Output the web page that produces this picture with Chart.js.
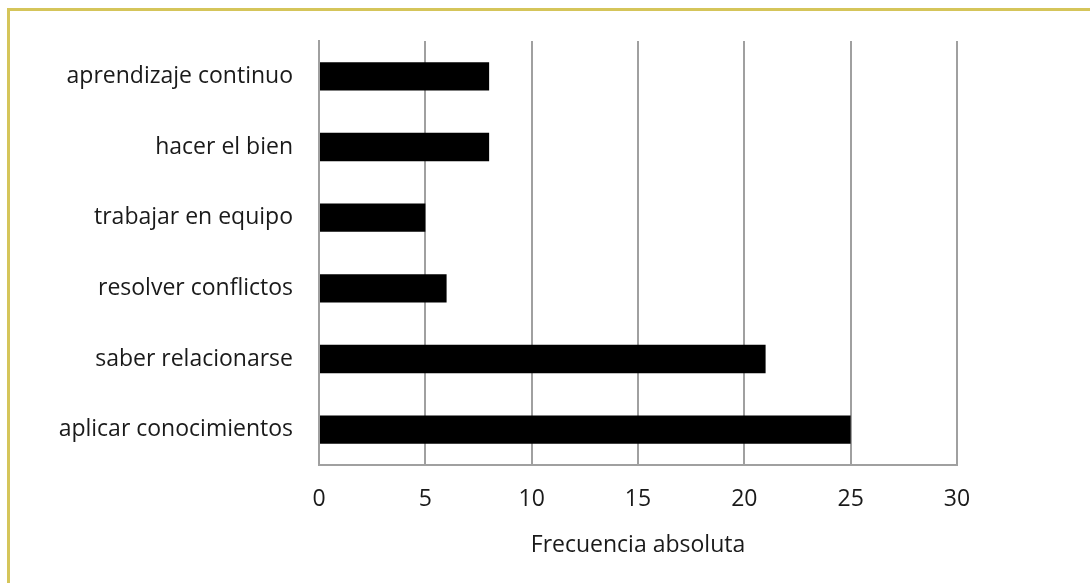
<!DOCTYPE html>
<html>
<head>
<meta charset="utf-8">
<script src="https://cdn.jsdelivr.net/npm/chart.js@4/dist/chart.umd.min.js"></script>
<style>
  html, body { margin: 0; padding: 0; background: #fff; overflow: hidden; }
  #wrap { position: relative; width: 1090px; height: 583px; }
  #frame { position: absolute; left: 7px; top: 8px; width: 1100px; height: 600px;
           border-top: 3px solid #d5c55a; border-left: 3px solid #d5c55a; }
  canvas { position: absolute; left: 0; top: 0; }
</style>
</head>
<body>
<div id="wrap">
  <div id="frame"></div>
  <canvas id="chart" width="1090" height="583"></canvas>
</div>
<script>
        const categories = [
            "aprendizaje continuo",
            "hacer el bien",
            "trabajar en equipo",
            "resolver conflictos",
            "saber relacionarse",
            "aplicar conocimientos"
        ];
        const frecuencias = [8, 8, 5, 6, 21, 25];
        const xTicks = [0, 5, 10, 15, 20, 25, 30];

        const font = { family: "'Open Sans', sans-serif", size: 23 };
        const gridColor = '#a0a0a0';
        const textColor = '#1a1a1a';

        const ctx = document.getElementById('chart').getContext('2d');
        new Chart(ctx, {
            type: 'bar',
            data: {
                labels: categories,
                datasets: [{
                    data: frecuencias,
                    backgroundColor: '#000',
                    borderWidth: 0,
                    categoryPercentage: 1,
                    barPercentage: 0.4
                }]
            },
            options: {
                indexAxis: 'y',
                responsive: false,
                animation: false,
                layout: { padding: { left: 0, right: 133, top: 41, bottom: 0 } },
                plugins: { legend: { display: false }, tooltip: { enabled: false } },
                scales: {
                    x: {
                        min: xTicks[0],
                        max: xTicks[xTicks.length - 1],
                        afterBuildTicks: axis => { axis.ticks = xTicks.map(v => ({ value: v })); },
                        afterFit: axis => { axis.height = 118; },
                        grid: { color: gridColor, lineWidth: 2, drawTicks: false },
                        border: { color: gridColor, width: 2 },
                        ticks: { color: textColor, font: font, padding: 21 },
                        title: {
                            display: true,
                            text: 'Frecuencia absoluta',
                            color: textColor,
                            font: font,
                            padding: { top: 0, bottom: 24 }
                        }
                    },
                    y: {
                        afterFit: axis => { axis.width = 319; },
                        grid: { display: false, drawTicks: false },
                        border: { color: gridColor, width: 2 },
                        ticks: { color: textColor, font: font, padding: 26 }
                    }
                }
            }
        });
</script>
</body>
</html>
